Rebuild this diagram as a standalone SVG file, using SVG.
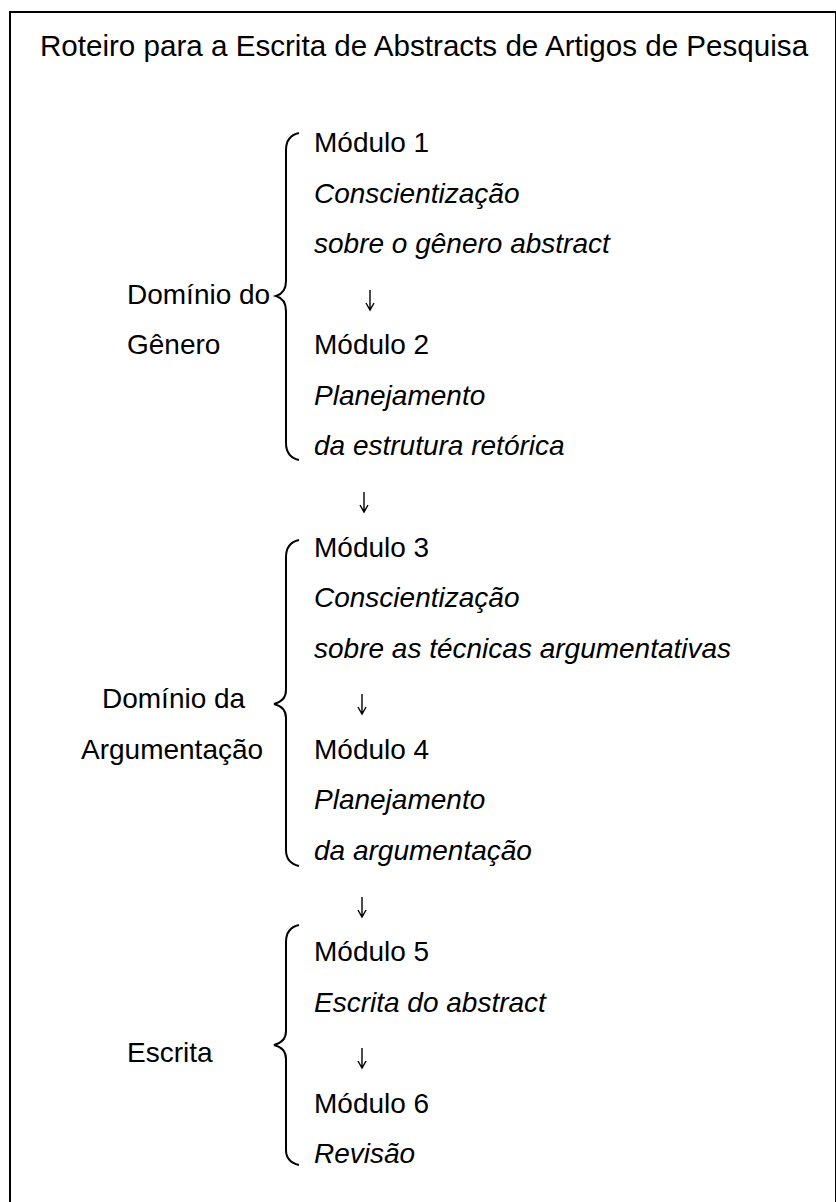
<svg xmlns="http://www.w3.org/2000/svg" width="836" height="1202" viewBox="0 0 836 1202">
<style>
text{font-family:"Liberation Sans",Arial,sans-serif;font-size:28px;fill:#000}
.t{font-size:29.6px;text-anchor:middle}
.i{font-style:italic}
.br{fill:none;stroke:#000;stroke-width:2}
.ar{fill:none;stroke:#000;stroke-width:1.4}
</style>
<rect width="836" height="1202" fill="#fff"/>
<path d="M10,1202 V12 H836 V1202" fill="none" stroke="#000" stroke-width="2"/>
<text x="424" y="56" class="t">Roteiro para a Escrita de Abstracts de Artigos de Pesquisa</text>
<g id="connectors">
<path class="br" d="M299,133 Q286,136 286,150 L286,281 Q286,293 276,296 Q286,299 286,311 L286,443 Q286,457 299,460"/>
<path class="br" d="M299,540 Q286,543 286,557 L286,690 Q286,701 274,704 Q286,707 286,718 L286,850 Q286,863 299,866"/>
<path class="br" d="M299,925 Q286,928 286,942 L286,1031 Q286,1042 274,1045 Q286,1048 286,1059 L286,1150 Q286,1162 299,1165"/>
<path class="ar" d="M370,290 V310 M366,303 L370,310 L374,303"/>
<path class="ar" d="M364,492 V512 M360,505 L364,512 L368,505"/>
<path class="ar" d="M362,694 V714 M358,707 L362,714 L366,707"/>
<path class="ar" d="M362,897 V917 M358,910 L362,917 L366,910"/>
<path class="ar" d="M362,1048 V1068 M358,1061 L362,1068 L366,1061"/>
</g>
<g id="g1"><text x="127" y="304">Domínio do</text><text x="127" y="354">Gênero</text></g>
<g id="g2"><text x="102" y="708">Domínio da</text><text x="81" y="759">Argumentação</text></g>
<g id="g3"><text x="127" y="1062">Escrita</text></g>
<g id="m1"><text x="314" y="152">Módulo 1</text><text x="314" y="203" class="i">Conscientização</text><text x="314" y="253" class="i">sobre o gênero abstract</text></g>
<g id="m2"><text x="314" y="354">Módulo 2</text><text x="314" y="405" class="i">Planejamento</text><text x="314" y="455" class="i">da estrutura retórica</text></g>
<g id="m3"><text x="314" y="557">Módulo 3</text><text x="314" y="607" class="i">Conscientização</text><text x="314" y="658" class="i">sobre as técnicas argumentativas</text></g>
<g id="m4"><text x="314" y="759">Módulo 4</text><text x="314" y="809" class="i">Planejamento</text><text x="314" y="860" class="i">da argumentação</text></g>
<g id="m5"><text x="314" y="961">Módulo 5</text><text x="314" y="1012" class="i">Escrita do abstract</text></g>
<g id="m6"><text x="314" y="1113">Módulo 6</text><text x="314" y="1163" class="i">Revisão</text></g>
</svg>
